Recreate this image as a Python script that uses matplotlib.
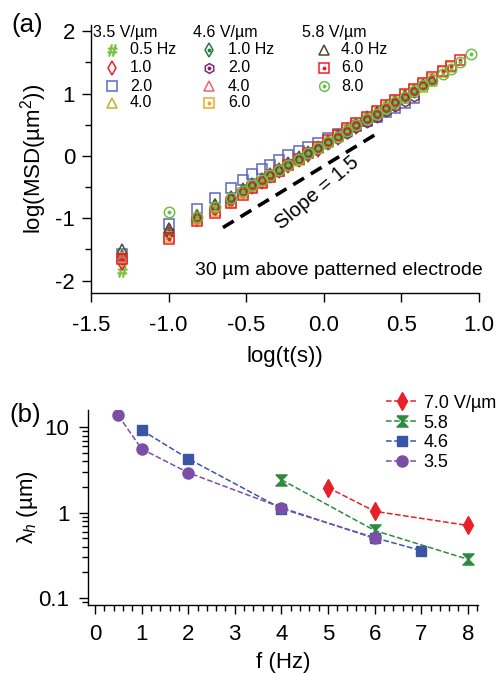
import numpy as np
import matplotlib
matplotlib.use('Agg')
import matplotlib.pyplot as plt
from matplotlib.ticker import MultipleLocator, LogLocator, NullFormatter, FixedLocator

plt.rcParams['font.family'] = ['Liberation Sans', 'DejaVu Sans']
plt.rcParams['mathtext.fontset'] = 'custom'
plt.rcParams['mathtext.rm'] = 'Liberation Sans'
plt.rcParams['mathtext.it'] = 'Liberation Sans:italic'
plt.rcParams['axes.linewidth'] = 1.0
plt.rcParams['axes.unicode_minus'] = False

############################################
### panel (a) data: log(MSD) vs log(t) ###
############################################
log_t = [-1.30, -1.00, -0.82, -0.70, -0.60, -0.52, -0.46, -0.40, -0.35, -0.29,
         -0.23, -0.16, -0.10, -0.04, 0.03, 0.09, 0.15, 0.21, 0.28, 0.34,
         0.40, 0.46, 0.52, 0.58, 0.64, 0.70, 0.77, 0.82, 0.88, 0.95]

msd_35_05 = [-1.85, -1.26, -1.00, -0.84, -0.70, -0.57, -0.48, -0.40, -0.32, -0.24,
             -0.15, -0.06, 0.03, 0.11, 0.21, 0.30, 0.39, 0.48, 0.58, 0.67]
msd_35_10 = [-1.72, -1.24, -1.02, -0.86, -0.72, -0.58, -0.50, -0.42, -0.33, -0.25,
             -0.16, -0.07, 0.02, 0.10, 0.20, 0.29, 0.38, 0.47, 0.57, 0.66, 0.75, 0.84]
msd_35_20 = [-1.57, -1.10, -0.86, -0.67, -0.52, -0.38, -0.29, -0.21, -0.14, -0.07,
             0.01, 0.08, 0.15, 0.21, 0.28, 0.35, 0.42, 0.48, 0.56, 0.63, 0.70, 0.77, 0.85, 0.93]
msd_35_40 = [-1.60, -1.16, -0.94, -0.78, -0.64, -0.53, -0.44, -0.36, -0.28, -0.20,
             -0.11, -0.03, 0.06, 0.14, 0.24, 0.32, 0.41, 0.50, 0.58, 0.66,
             0.74, 0.83, 0.93, 1.02, 1.11, 1.20]
msd_46_10 = [-1.62, -1.20, -0.98, -0.80, -0.67, -0.55, -0.46, -0.38, -0.30, -0.22,
             -0.13, -0.04, 0.05, 0.13, 0.23, 0.32, 0.41, 0.50, 0.60, 0.69, 0.78, 0.87]
msd_46_20 = [-1.66, -1.22, -0.99, -0.83, -0.69, -0.57, -0.48, -0.40, -0.32, -0.24,
             -0.15, -0.06, 0.03, 0.11, 0.20, 0.29, 0.37, 0.46, 0.55, 0.63, 0.72, 0.80, 0.88, 0.96]
msd_46_40 = [-1.63, -1.18, -0.96, -0.80, -0.66, -0.54, -0.45, -0.37, -0.29, -0.21,
             -0.12, -0.03, 0.06, 0.14, 0.24, 0.33, 0.42, 0.51, 0.61, 0.70,
             0.79, 0.88, 0.97, 1.06, 1.15, 1.24]
msd_46_60 = [-1.64, -1.30, -1.02, -0.88, -0.74, -0.60, -0.50, -0.42, -0.33, -0.25,
             -0.15, -0.06, 0.04, 0.13, 0.23, 0.32, 0.42, 0.51, 0.61, 0.70,
             0.79, 0.88, 0.97, 1.06, 1.15, 1.24, 1.34, 1.42]
msd_58_40 = [-1.50, -1.15, -0.97, -0.78, -0.66, -0.54, -0.45, -0.37, -0.29, -0.21,
             -0.12, -0.03, 0.06, 0.14, 0.24, 0.33, 0.42, 0.51, 0.61, 0.70,
             0.79, 0.88, 0.97, 1.06, 1.15, 1.24]
msd_58_60 = [-1.66, -1.34, -1.05, -0.92, -0.76, -0.63, -0.52, -0.43, -0.34, -0.25,
             -0.15, -0.05, 0.05, 0.14, 0.25, 0.34, 0.44, 0.53, 0.63, 0.72,
             0.81, 0.90, 0.99, 1.08, 1.17, 1.26, 1.36, 1.44, 1.54]
msd_58_80 = [-0.90, -0.98, -0.82, -0.68, -0.56, -0.47, -0.39, -0.31, -0.23,
             -0.14, -0.05, 0.04, 0.12, 0.22, 0.31, 0.40, 0.49, 0.59, 0.68,
             0.77, 0.86, 0.95, 1.04, 1.13, 1.22, 1.32, 1.40, 1.50, 1.63]

slope_x = [-0.65, 0.35]
slope_y = [-1.15, 0.37]

# (label, y data, first index, marker, colour, dot in the middle)
col_35 = [('0.5 Hz', msd_35_05, 0, r'$\#$', '#7cc242', False),
          ('1.0', msd_35_10, 0, 'd', '#e8202a', False),
          ('2.0', msd_35_20, 0, 's', '#5b68bf', False),
          ('4.0', msd_35_40, 0, '^', '#b6b52a', False)]
col_46 = [('1.0 Hz', msd_46_10, 0, 'd', '#2a7a3a', True),
          ('2.0', msd_46_20, 0, 'h', '#7a2b6e', True),
          ('4.0', msd_46_40, 0, '^', '#f0626c', False),
          ('6.0', msd_46_60, 0, 's', '#f5a623', True)]
col_58 = [('4.0 Hz', msd_58_40, 0, '^', '#4d4a2c', False),
          ('6.0', msd_58_60, 0, 's', '#e8202a', True),
          ('8.0', msd_58_80, 1, 'o', '#6cc04a', True)]
headers = ['3.5 V/\u00b5m', '4.6 V/\u00b5m', '5.8 V/\u00b5m']

############################################
### panel (b) data: lambda_h vs f ###
############################################
f_70 = [5, 6, 8]
lam_70 = [1.97, 1.04, 0.71]
f_58 = [4, 6, 8]
lam_58 = [2.44, 0.62, 0.285]
f_46 = [1, 2, 4, 6, 7]
lam_46 = [9.3, 4.3, 1.12, 0.51, 0.36]
f_35 = [0.5, 1, 2, 4, 6]
lam_35 = [13.8, 5.6, 2.95, 1.15, 0.5]

hourglass = [(-1, 1), (1, 1), (-1, -1), (1, -1), (-1, 1)]

fig = plt.figure(figsize=(5.02, 6.74), dpi=100)
fs = 16

### plot (a)
ax = fig.add_axes([0.1813, 0.5653, 0.773, 0.3976])
ms = 7.5
for col in (col_35, col_46, col_58):
    for lab, yv, i0, mk, c, dot in col:
        xv = log_t[i0:i0 + len(yv)]
        if mk == r'$\#$':
            ax.plot(xv, yv, ls='none', marker=mk, ms=8, color=c)
        else:
            ax.plot(xv, yv, ls='none', marker=mk, ms=ms, mfc='none', mec=c, mew=1.1)
        if dot:
            ax.plot(xv, yv, ls='none', marker='o', ms=1.8, color=c)

ax.plot(slope_x, slope_y, 'k--', lw=2.6, dashes=(3.5, 2.2))
ax.text(-0.04, -0.59, 'Slope = 1.5', rotation=40, fontsize=14.5,
        ha='center', va='center')
ax.text(1.01, 0.085, '30 \u00b5m above patterned electrode', transform=ax.transAxes,
        ha='right', va='center', fontsize=14)

# legend drawn by hand (three field columns)
hx = [0.005, 0.263, 0.544]
mx = [0.054, 0.304, 0.600]
tx = [0.100, 0.353, 0.645]
rows = [0.907, 0.840, 0.772, 0.709]
for k, col in enumerate((col_35, col_46, col_58)):
    ax.text(hx[k], 0.972, headers[k], transform=ax.transAxes, fontsize=11.5,
            ha='left', va='center')
    for r, (lab, yv, i0, mk, c, dot) in enumerate(col):
        if mk == r'$\#$':
            ax.plot([mx[k]], [rows[r]], transform=ax.transAxes, ls='none',
                    marker=mk, ms=8, color=c, clip_on=False)
        else:
            ax.plot([mx[k]], [rows[r]], transform=ax.transAxes, ls='none',
                    marker=mk, ms=7, mfc='none', mec=c, mew=1.1, clip_on=False)
        if dot:
            ax.plot([mx[k]], [rows[r]], transform=ax.transAxes, ls='none',
                    marker='o', ms=1.8, color=c, clip_on=False)
        ax.text(tx[k], rows[r], lab, transform=ax.transAxes, fontsize=11.5,
                ha='left', va='center')

ax.set_xlim(-1.5, 1.0)
ax.set_ylim(-2.2, 2.1)
ax.xaxis.set_major_locator(MultipleLocator(0.5))
ax.yaxis.set_major_locator(MultipleLocator(1))
ax.yaxis.set_minor_locator(MultipleLocator(0.5))
ax.xaxis.set_major_formatter(plt.FuncFormatter(lambda v, p: '%.1f' % v))
ax.spines['top'].set_visible(False)
ax.spines['right'].set_visible(False)
ax.tick_params(which='major', direction='out', length=6.5, width=1.0, labelsize=fs)
ax.tick_params(which='minor', direction='out', length=4, width=1.0)
ax.tick_params(axis='x', pad=9.5)
ax.tick_params(axis='y', pad=5)
ax.set_xlabel('log(t(s))', fontsize=fs, labelpad=7)
ax.set_ylabel('log(MSD(\u00b5m$^{2}$))', fontsize=fs)
ax.yaxis.set_label_coords(-0.108, 0.5)

### plot (b)
bx = fig.add_axes([0.1753, 0.1024, 0.777, 0.2893])
bx.plot(f_70, lam_70, '--', color='#e8202a', lw=1.1, marker='d', ms=9, label='7.0 V/\u00b5m')
bx.plot(f_58, lam_58, '--', color='#2e8b3e', lw=1.1, marker=hourglass, ms=8, label='5.8')
bx.plot(f_46, lam_46, '--', color='#3a55a4', lw=1.1, marker='s', ms=7, label='4.6')
bx.plot(f_35, lam_35, '--', color='#7b4fa8', lw=1.1, marker='o', ms=8, label='3.5')
bx.set_yscale('log')
bx.set_xlim(-0.15, 8.22)
bx.set_ylim(0.083, 16)
bx.xaxis.set_major_locator(MultipleLocator(1))
bx.xaxis.set_minor_locator(MultipleLocator(0.2))
bx.yaxis.set_major_locator(FixedLocator([0.1, 1, 10]))
bx.yaxis.set_major_formatter(plt.FuncFormatter(lambda v, p: '%g' % v))
bx.yaxis.set_minor_locator(LogLocator(base=10, subs=np.arange(2, 10)))
bx.yaxis.set_minor_formatter(NullFormatter())
bx.spines['top'].set_visible(False)
bx.spines['right'].set_visible(False)
bx.tick_params(which='major', direction='out', length=6.5, width=1.0, labelsize=fs)
bx.tick_params(which='minor', direction='out', length=4, width=1.0)
bx.tick_params(axis='x', pad=7.5)
bx.tick_params(axis='y', pad=7)
bx.set_xlabel('f (Hz)', fontsize=fs, labelpad=5)
bx.set_ylabel('\u03bb$_{h}$ (\u00b5m)', fontsize=fs)
bx.yaxis.set_label_coords(-0.124, 0.5)
bx.legend(loc='upper left', bbox_to_anchor=(0.745, 1.115), bbox_transform=bx.transAxes,
          frameon=False, fontsize=13, handlelength=1.8, handletextpad=0.3,
          labelspacing=0.15, borderaxespad=0)

fig.text(0.022, 0.963, '(a)', fontsize=18.5, ha='left', va='center')
fig.text(0.018, 0.385, '(b)', fontsize=18.5, ha='left', va='center')

plt.savefig('out.png', dpi=100)
plt.close()
